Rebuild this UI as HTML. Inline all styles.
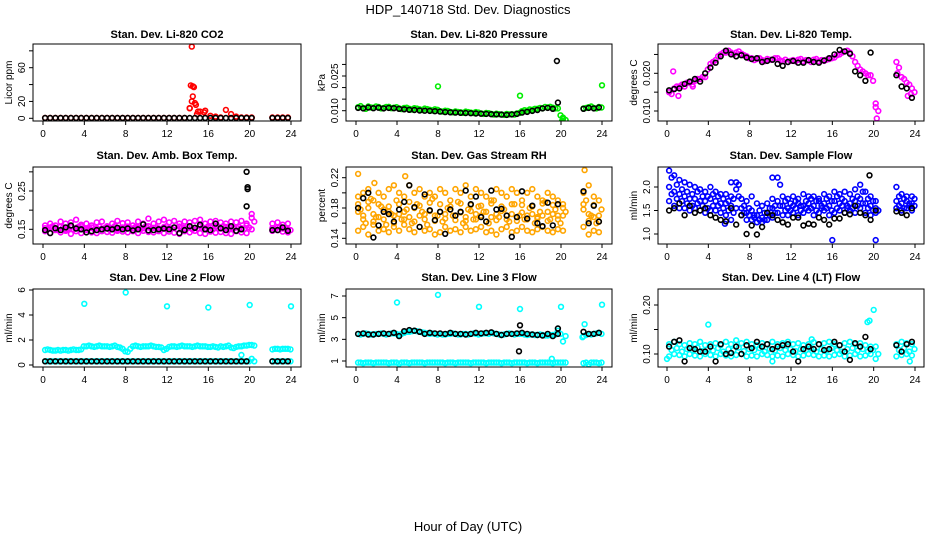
<!DOCTYPE html>
<html><head><meta charset="utf-8"><style>
body{margin:0;background:#fff}
svg{display:block;font-family:"Liberation Sans",sans-serif}
</style></head><body>
<svg id="chart" width="936" height="540" viewBox="0 0 936 540">
<rect width="936" height="540" fill="#fff"/>
<text x="468" y="14" font-size="13" text-anchor="middle">HDP_140718  Std. Dev. Diagnostics</text>
<text x="468" y="531" font-size="13" text-anchor="middle">Hour of Day (UTC)</text>
</svg>
<script>
// ---- data (hours sampled every 0.5 h; gap 20.5-21.8) ----
const hours=[];for(let i=0;i<41;i++)hours.push(0.2+0.5*i);hours.push(22.2,22.7,23.2,23.7);
const hoursB=[];for(let i=0;i<41;i++)hoursB.push(0.45+0.5*i);hoursB.push(22.45,22.95,23.45,23.95);
const xTicks=[0,4,8,12,16,20,24];

const co2Red=Array(28).fill(0.5).concat([12,18,8,9,3,2,1,10,5,2,1,1,1,1,1,1,1]);
const co2SpikeHours=[14.4,14.5,14.3,14.6,14.5,14.4,14.8,14.2,15.0,15.6,14.9];
const co2SpikeVals=[85,38,39,37,26,20,16,12,8,7,5];
const co2Black=Array(45).fill(0.3);

const presGreen=[.0115,.0112,.0118,.0113,.0116,.0112,.0117,.0113,.0110,.0112,.0108,.0111,.0106,.0109,.0104,.0106,.0098,.0100,.0095,.0097,.0093,.0096,.0092,.0094,.0088,.0090,.0086,.0087,.0084,.0086,.0085,.0088,.0098,.0100,.0104,.0108,.0110,.0114,.0113,.0110,.0070,.0110,.0115,.0112,.0116];
const presGreen2=[.0120,.0108,.0114,.0118,.0110,.0116,.0111,.0115,.0107,.0113,.0105,.0109,.0103,.0107,.0101,.0104,.0096,.0099,.0093,.0095,.0091,.0094,.0090,.0092,.0086,.0089,.0083,.0085,.0082,.0084,.0083,.0090,.0102,.0105,.0108,.0112,.0116,.0117,.0110,.0080,.0060,.0112,.0118,.0110,.0114];
const presGreenOutHours=[8,16,24,20.1,20.2];
const presGreenOutVals=[.0205,.0165,.021,.0055,.0065];
const presBlack=[.0112,.0110,.0114,.0111,.0113,.0110,.0112,.0111,.0108,.0106,.0104,.0103,.0101,.0100,.0099,.0098,.0096,.0094,.0093,.0092,.0091,.0090,.0089,.0088,.0087,.0086,.0085,.0084,.0083,.0082,.0084,.0086,.0092,.0095,.0099,.0103,.0110,.0112,.0108,.0135,null,.0108,.0112,.0110,.0114];
const presBlackOutHours=[19.6];const presBlackOutVals=[.0315];

const tempMag=[.0150,.0160,.0165,.0165,.0175,.0180,.0185,.0190,.0225,.0235,.0250,.0255,.0255,.0255,.0252,.0245,.0240,.0238,.0235,.0238,.0236,.0240,.0232,.0230,.0235,.0236,.0232,.0234,.0236,.0232,.0233,.0238,.0242,.0250,.0258,.0255,.0230,.0210,.0200,.0195,.0120,.0230,.0190,.0175,.0160];
const tempMag2=[.0145,.0165,.0170,.0175,.0170,.0185,.0190,.0210,.0230,.0245,.0255,.0260,.0250,.0258,.0248,.0240,.0235,.0240,.0232,.0236,.0240,.0234,.0236,.0233,.0232,.0238,.0235,.0230,.0238,.0235,.0236,.0240,.0248,.0255,.0260,.0245,.0220,.0205,.0195,.0180,.0100,.0215,.0185,.0170,.0150];
const tempMagOutHours=[1.1,20.2,20.3,20.35,23.3,23.6,22.3,0.6,2.5];
const tempMagOutVals=[.0140,.0110,.0080,.0065,.0140,.0145,.0200,.0205,.0165];
const tempBlack=[.0155,.0158,.0160,.0172,.0178,.0185,.0178,.0200,.0215,.0228,.0245,.0260,.0250,.0245,.0248,.0242,.0238,.0240,.0230,.0233,.0236,.0225,.0220,.0230,.0233,.0228,.0228,.0235,.0230,.0228,.0234,.0240,.0250,.0262,.0258,.0252,.0205,.0195,.0180,.0255,null,.0195,.0165,.0160,.0135];

const ambHi=[.160,.165,.160,.170,.165,.168,.175,.162,.165,.160,.168,.170,.158,.165,.172,.166,.168,.160,.170,.165,.178,.165,.170,.175,.168,.172,.165,.170,.168,.172,.175,.165,.170,.172,.168,.165,.170,.168,.172,.165,.180,.165,.168,.162,.165];
const ambMid=[.153,.155,.152,.157,.150,.156,.154,.158,.152,.155,.153,.151,.156,.154,.150,.155,.157,.152,.155,.153,.158,.154,.152,.156,.153,.155,.157,.152,.156,.154,.158,.153,.155,.157,.152,.156,.154,.155,.153,.160,.190,.153,.155,.152,.150];
const ambMid2=[.150,.158,.148,.155,.152,.150,.157,.153,.155,.150,.157,.153,.149,.158,.152,.150,.153,.156,.150,.158,.152,.155,.150,.158,.152,.150,.155,.158,.150,.152,.155,.157,.150,.153,.158,.150,.152,.157,.150,.155,.170,.150,.157,.155,.148];
const ambLo=[.145,.140,.148,.142,.146,.138,.145,.140,.148,.142,.140,.145,.143,.141,.146,.144,.142,.145,.140,.146,.143,.142,.145,.140,.144,.141,.138,.145,.142,.146,.140,.138,.144,.141,.143,.140,.138,.145,.142,.140,.150,.146,.148,.144,.142];
const ambBlack=[.148,.140,.153,.148,.155,.160,.152,.150,.142,.145,.148,.150,.152,.150,.154,.150,.152,.147,.150,.163,.147,.148,.150,.152,.150,.155,.140,.148,.158,.154,.162,.150,.148,.165,.153,.148,.158,.146,.150,.210,null,.148,.148,.155,.146];
const ambBlackOutHours=[19.7,19.8,19.8];const ambBlackOutVals=[.30,.26,.255];

const rhHi=[.195,.200,.205,.190,.200,.195,.205,.210,.200,.195,.210,.200,.205,.195,.200,.195,.205,.200,.190,.205,.200,.210,.195,.205,.200,.195,.190,.205,.200,.195,.205,.200,.190,.200,.205,.195,.190,.200,.195,.190,.185,.200,.210,.195,.190];
const rhMidA=[.185,.165,.188,.162,.185,.165,.182,.160,.185,.165,.188,.162,.183,.165,.187,.163,.185,.166,.182,.164,.186,.163,.184,.165,.183,.162,.186,.164,.182,.165,.185,.163,.184,.165,.182,.166,.186,.163,.184,.165,.180,.185,.163,.184,.162];
const rhMid=[.175,.170,.180,.172,.168,.178,.175,.170,.172,.175,.168,.180,.170,.172,.176,.170,.175,.172,.178,.170,.174,.168,.176,.172,.170,.175,.168,.172,.176,.170,.172,.168,.174,.170,.172,.168,.170,.175,.172,.170,.170,.178,.172,.168,.170];
const rhMidB=[.178,.160,.192,.168,.182,.158,.172,.190,.165,.178,.160,.185,.175,.158,.192,.170,.162,.180,.170,.188,.160,.178,.165,.182,.175,.160,.190,.168,.178,.162,.185,.170,.165,.180,.160,.175,.188,.165,.178,.160,.175,.190,.170,.160,.178];
const rhLo=[.150,.155,.145,.158,.150,.152,.148,.155,.150,.158,.152,.148,.155,.150,.152,.145,.148,.155,.150,.152,.148,.155,.150,.152,.155,.148,.150,.145,.152,.155,.148,.150,.155,.150,.148,.152,.155,.150,.148,.152,.150,.155,.145,.150,.148];
const rhOutHours=[0.2,4.8,22.3,1.8];const rhOutVals=[.225,.222,.230,.213];
const rhBlack=[.180,.193,.200,.141,.157,.175,.172,.162,.178,.188,.210,.181,.155,.198,.177,.164,.175,.146,.178,.170,.175,.203,.185,.195,.168,.162,.203,.178,.179,.170,.142,.168,.202,.166,.183,.160,.156,.187,.157,.185,null,.202,.160,.183,.162];

const flowHi=[2.35,2.25,2.15,2.10,2.05,2.00,1.95,1.90,2.00,1.90,1.85,1.85,1.80,2.10,1.75,1.70,1.80,1.65,1.60,1.65,1.75,2.20,1.80,1.75,1.80,1.75,1.85,1.80,1.80,1.75,1.85,1.80,1.90,1.85,1.90,1.85,1.95,2.05,1.90,1.80,1.70,2.00,1.85,1.80,1.80];
const flowMid=[2.00,1.90,1.85,1.80,1.75,1.75,1.70,1.70,1.75,1.70,1.65,1.65,1.60,1.95,1.55,1.45,1.50,1.40,1.35,1.45,1.55,1.70,1.60,1.55,1.60,1.65,1.60,1.65,1.60,1.70,1.65,1.60,1.70,1.65,1.70,1.65,1.70,1.75,1.65,1.60,1.55,1.70,1.65,1.70,1.65];
const flow2=[2.20,2.05,1.95,1.90,1.85,1.90,1.80,1.80,1.85,1.80,1.75,1.70,1.75,2.05,1.60,1.55,1.40,1.50,1.45,1.55,1.60,2.05,1.70,1.65,1.70,1.60,1.70,1.75,1.70,1.60,1.75,1.70,1.80,1.75,1.60,1.75,1.80,1.90,1.75,1.70,1.50,1.80,1.75,1.60,1.75];
const flow3=[1.85,1.75,1.70,1.65,1.60,1.65,1.60,1.55,1.60,1.60,1.55,1.50,1.45,1.80,1.45,1.40,1.35,1.30,1.30,1.40,1.45,1.60,1.50,1.50,1.55,1.50,1.55,1.55,1.50,1.55,1.55,1.50,1.55,1.60,1.55,1.55,1.60,1.65,1.55,1.50,1.50,1.60,1.55,1.65,1.60];
const flowLo=[1.70,1.60,1.55,1.55,1.50,1.55,1.50,1.45,1.50,1.50,1.45,1.40,1.30,1.55,1.40,1.30,1.30,1.25,1.25,1.30,1.35,1.45,1.40,1.40,1.45,1.40,1.45,1.50,1.40,1.45,1.50,1.40,1.45,1.50,1.45,1.50,1.45,1.55,1.45,1.40,1.45,1.55,1.50,1.55,1.50];
const flowOutHours=[16,20.2,10.2,6.2,5.6];const flowOutVals=[0.87,0.87,2.2,2.1,1.22];
const flowBlack=[1.50,1.55,1.65,1.40,1.60,1.45,1.50,1.55,1.40,1.35,1.30,1.27,1.55,1.20,1.40,1.00,1.18,0.99,1.15,1.45,1.40,1.30,1.25,1.20,1.35,1.35,1.18,1.22,1.20,1.35,1.30,1.20,1.33,1.33,1.45,1.42,1.60,1.45,1.40,1.30,1.50,1.48,1.45,1.40,1.55];
const flowBlackOutHours=[19.6];const flowBlackOutVals=[2.25];

const l2Hi=[1.2,1.2,1.15,1.15,1.2,1.2,1.2,1.25,1.5,1.5,1.5,1.5,1.5,1.5,1.45,1.3,1.05,1.5,1.5,1.5,1.5,1.5,1.45,1.2,1.45,1.5,1.5,1.5,1.5,1.5,1.5,1.5,1.45,1.45,1.5,1.5,1.4,1.45,1.5,1.55,1.6,1.25,1.3,1.3,1.3];
const l2Hi2=[1.25,1.15,1.2,1.2,1.15,1.25,1.2,1.5,1.55,1.45,1.55,1.5,1.45,1.55,1.4,1.1,1.3,1.55,1.45,1.5,1.55,1.45,1.4,1.3,1.5,1.45,1.55,1.5,1.45,1.55,1.5,1.45,1.5,1.4,1.45,1.55,1.35,1.5,1.55,1.6,1.55,1.3,1.25,1.3,1.25];
const l2Lo=Array(40).fill(0.3).concat([0.5,0.3,0.3,0.3,0.3]);
const l2Lo2=Array(45).fill(0.3);
const l2OutHours=[4,8,12,16,20,24,19.2];const l2OutVals=[4.9,5.8,4.7,4.6,4.8,4.7,0.8];
const l2Black=Array(40).fill(0.3).concat([null,0.3,0.3,0.3,0.3]);

const l3Hi=[3.5,3.5,3.5,3.45,3.5,3.5,3.5,3.55,3.4,3.6,3.7,3.8,3.7,3.6,3.5,3.5,3.5,3.45,3.5,3.5,3.45,3.5,3.5,3.5,3.5,3.55,3.6,3.5,3.4,3.5,3.5,3.5,3.5,3.4,3.45,3.4,3.4,3.35,3.4,3.8,2.8,3.3,3.5,3.5,3.6];
const l3Hi2=[3.45,3.55,3.45,3.5,3.55,3.45,3.55,3.5,3.5,3.7,3.75,3.75,3.65,3.55,3.55,3.45,3.45,3.5,3.55,3.45,3.5,3.45,3.55,3.45,3.55,3.5,3.55,3.45,3.45,3.55,3.45,3.5,3.45,3.45,3.4,3.45,3.35,3.4,3.45,3.5,3.3,3.4,3.45,3.55,3.5];
const l3Lo=[0.85,0.8,0.85,0.8,0.85,0.85,0.8,0.85,0.75,0.85,0.8,0.85,0.85,0.8,0.85,0.85,0.85,0.8,0.85,0.8,0.85,0.85,0.8,0.85,0.85,0.8,0.85,0.85,0.8,0.85,0.8,0.85,0.85,0.8,0.85,0.8,0.85,0.85,0.8,0.85,0.85,0.8,0.7,0.85,0.8];
const l3Lo2=Array(45).fill(0.85);
const l3OutHours=[4,8,12,16,20,24,19.1,22.3,22.1];const l3OutVals=[6.4,7.1,6.0,5.8,6.0,6.2,1.2,4.4,3.2];
const l3Black=[3.5,3.55,3.45,3.45,3.5,3.55,3.5,3.6,3.3,3.75,3.85,3.8,3.7,3.5,3.6,3.55,3.55,3.5,3.6,3.5,3.5,3.45,3.5,3.6,3.55,3.6,3.65,3.5,3.4,3.5,3.5,3.55,3.6,3.5,3.45,3.4,3.35,3.5,3.3,3.5,null,3.7,3.5,3.5,3.6];
const l3BlackOutHours=[16,15.9,19.7];const l3BlackOutVals=[4.3,1.9,4.0];

const l4Hi=[.120,.125,.120,.118,.122,.120,.125,.118,.120,.122,.118,.125,.120,.128,.122,.125,.120,.118,.122,.120,.125,.120,.122,.125,.120,.122,.118,.120,.124,.120,.122,.125,.120,.118,.122,.125,.120,.122,.118,.115,.115,.120,.125,.122,.120];
const l4Mid=[.108,.112,.105,.110,.108,.113,.106,.110,.107,.112,.105,.110,.108,.113,.106,.110,.108,.112,.105,.110,.107,.112,.108,.110,.106,.110,.108,.112,.105,.110,.107,.112,.108,.105,.110,.112,.107,.110,.105,.108,.100,.108,.112,.105,.110];
const l4Lo=[.095,.100,.098,.095,.100,.097,.095,.100,.098,.095,.100,.097,.095,.098,.100,.095,.097,.095,.100,.098,.095,.097,.095,.100,.098,.095,.097,.100,.098,.095,.097,.095,.098,.100,.095,.097,.100,.095,.097,.100,.090,.095,.098,.100,.097];
const l4OutHours=[4,12,19.4,19.6,20,0,14,23.5,10.2];const l4OutVals=[.16,.24,.165,.168,.19,.09,.13,.085,.085];
const l4Black=[.115,.125,.128,.085,.112,.110,.105,.105,.115,.085,.120,.100,.102,.115,.100,.118,.112,.125,.115,.120,.110,.115,.118,.120,.105,.085,.110,.115,.110,.120,.108,.110,.125,.118,.105,.088,.122,.115,.135,.110,null,.118,.105,.120,.125];

// ---- layout ----
const NS='http://www.w3.org/2000/svg';
const svg=document.getElementById('chart');
function mk(tag,attrs,parent){const e=document.createElementNS(NS,tag);for(const k in attrs)e.setAttribute(k,attrs[k]);(parent||svg).appendChild(e);return e;}

const cols=[{bx0:33,bx1:301,t0:43,t24:291},{bx0:346,bx1:612,t0:356,t24:602},{bx0:658,bx1:924,t0:667,t24:915}];
const rows=[{by0:44,by1:121,tt:38},{by0:167,by1:244,tt:159},{by0:289,by1:367,tt:281}];

const panels=[
 {name:'co2',title:'Stan. Dev. Li-820 CO2',ylab:'Licor ppm',c:0,r:0,cal:[0,118.3,60,67.7],ticks:[0,20,40,60,80],labels:['0','20','','60',''],
  series:[[hours,co2Red,'#ff0000'],[co2SpikeHours,co2SpikeVals,'#ff0000'],[hours,co2Black,'#000']]},
 {name:'pressure',title:'Stan. Dev. Li-820 Pressure',ylab:'kPa',c:1,r:0,cal:[0.010,110.7,0.025,76],ticks:[0.010,0.015,0.020,0.025,0.030],labels:['0.010','','','0.025',''],
  series:[[hours,presGreen,'#00ee00'],[hoursB,presGreen2,'#00ee00'],[presGreenOutHours,presGreenOutVals,'#00ee00'],[hours,presBlack,'#000'],[presBlackOutHours,presBlackOutVals,'#000']]},
 {name:'temp',title:'Stan. Dev. Li-820 Temp.',ylab:'degrees C',c:2,r:0,cal:[0.010,111,0.020,73.3],ticks:[0.010,0.015,0.020,0.025],labels:['0.010','','0.020',''],
  series:[[hours,tempMag,'#ff00ff'],[hoursB,tempMag2,'#ff00ff'],[tempMagOutHours,tempMagOutVals,'#ff00ff'],[hours,tempBlack,'#000']]},
 {name:'amb-box',title:'Stan. Dev. Amb. Box Temp.',ylab:'degrees C',c:0,r:1,cal:[0.15,229.3,0.25,191],ticks:[0.15,0.20,0.25,0.30],labels:['0.15','','0.25',''],
  series:[[hours,ambHi,'#ff00ff'],[hours,ambMid,'#ff00ff'],[hoursB,ambMid2,'#ff00ff'],[hours,ambLo,'#ff00ff'],[hours,ambBlack,'#000'],[ambBlackOutHours,ambBlackOutVals,'#000']]},
 {name:'rh',title:'Stan. Dev. Gas Stream RH',ylab:'percent',c:1,r:1,cal:[0.14,238.3,0.22,177.7],ticks:[0.14,0.16,0.18,0.20,0.22],labels:['0.14','','0.18','','0.22'],
  series:[[hours,rhHi,'#ffa500'],[hours,rhMidA,'#ffa500'],[hours,rhMid,'#ffa500'],[hoursB,rhMidB,'#ffa500'],[hours,rhLo,'#ffa500'],[rhOutHours,rhOutVals,'#ffa500'],[hours,rhBlack,'#000']]},
 {name:'sample-flow',title:'Stan. Dev. Sample Flow',ylab:'ml/min',c:2,r:1,cal:[1.0,234,2.0,187],ticks:[1.0,1.5,2.0],labels:['1.0','1.5','2.0'],
  series:[[hours,flowHi,'#0000ff'],[hours,flowMid,'#0000ff'],[hoursB,flow2,'#0000ff'],[hoursB,flow3,'#0000ff'],[hours,flowLo,'#0000ff'],[flowOutHours,flowOutVals,'#0000ff'],[hours,flowBlack,'#000'],[flowBlackOutHours,flowBlackOutVals,'#000']]},
 {name:'line2-flow',title:'Stan. Dev. Line 2 Flow',ylab:'ml/min',c:0,r:2,cal:[0,365,6,290],ticks:[0,2,4,6],labels:['0','2','4','6'],
  series:[[hours,l2Hi,'#00ffff'],[hoursB,l2Hi2,'#00ffff'],[hours,l2Lo,'#00ffff'],[hoursB,l2Lo2,'#00ffff'],[l2OutHours,l2OutVals,'#00ffff'],[hours,l2Black,'#000']]},
 {name:'line3-flow',title:'Stan. Dev. Line 3 Flow',ylab:'ml/min',c:1,r:2,cal:[1,361,7,296],ticks:[1,3,5,7],labels:['1','3','5','7'],
  series:[[hours,l3Hi,'#00ffff'],[hoursB,l3Hi2,'#00ffff'],[hours,l3Lo,'#00ffff'],[hoursB,l3Lo2,'#00ffff'],[l3OutHours,l3OutVals,'#00ffff'],[hours,l3Black,'#000'],[l3BlackOutHours,l3BlackOutVals,'#000']]},
 {name:'line4-flow',title:'Stan. Dev. Line 4 (LT) Flow',ylab:'ml/min',c:2,r:2,cal:[0.10,354,0.20,305],ticks:[0.10,0.15,0.20],labels:['0.10','','0.20'],
  series:[[hours,l4Hi,'#00ffff'],[hoursB,l4Mid,'#00ffff'],[hours,l4Lo,'#00ffff'],[l4OutHours,l4OutVals,'#00ffff'],[hours,l4Black,'#000']]}
];

panels.forEach(p=>{
  const C=cols[p.c],R=rows[p.r];
  const g=mk('g',{});
  
  
  const xs=h=>C.t0+(C.t24-C.t0)*h/24;
  const ys=v=>p.cal[1]+(v-p.cal[0])*(p.cal[3]-p.cal[1])/(p.cal[2]-p.cal[0]);
  const t=mk('text',{x:(C.bx0+C.bx1)/2,y:R.tt,'font-size':11,'font-weight':'bold','text-anchor':'middle'},g);
  t.textContent=p.title;
  
  
  const cid='clip-'+p.name;
  const cp=mk('clipPath',{id:cid},g);mk('rect',{x:C.bx0,y:R.by0,width:C.bx1-C.bx0,height:R.by1-R.by0},cp);
  const pts=mk('g',{'clip-path':'url(#'+cid+')'},g);
  
  
  p.series.forEach(s=>{
    const [hh,vv,col]=s;
    vv.forEach((v,i)=>{
      if(v===null||v===undefined)return;
      const c=mk('circle',{cx:xs(hh[i]).toFixed(1),cy:ys(v).toFixed(1),r:2.4,fill:'none',stroke:col,'stroke-width':1.6},pts);
      
      
    });
  });
  const box=mk('rect',{x:C.bx0,y:R.by0,width:C.bx1-C.bx0,height:R.by1-R.by0,fill:'none',stroke:'#000','stroke-width':1},g);
  
  
  xTicks.forEach(h=>{
    const x=xs(h);
    mk('line',{x1:x,x2:x,y1:R.by1,y2:R.by1+4,stroke:'#000'},g);
    const tl=mk('text',{x:x,y:R.by1+16,'font-size':10,'text-anchor':'middle'},g);
    tl.textContent=h;
    
    
  });
  p.ticks.forEach((v,i)=>{
    const y=ys(v);
    mk('line',{x1:C.bx0-4,x2:C.bx0,y1:y,y2:y,stroke:'#000'},g);
    if(p.labels[i]){
      const yl=mk('text',{x:0,y:0,'font-size':10,'text-anchor':'middle',transform:`translate(${C.bx0-8},${y}) rotate(-90)`},g);
      yl.textContent=p.labels[i];
      
      
    }
  });
  const yt=mk('text',{x:0,y:0,'font-size':10,'text-anchor':'middle',transform:`translate(${C.bx0-21},${(R.by0+R.by1)/2}) rotate(-90)`},g);
  yt.textContent=p.ylab;
  
  
});
</script>
</body></html>
